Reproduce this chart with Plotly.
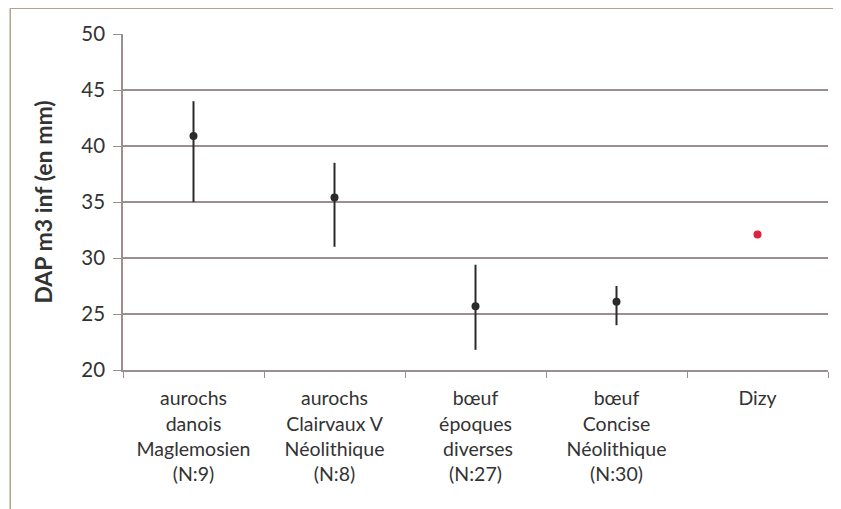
import plotly.graph_objects as go

categories = ["aurochs<br>danois<br>Maglemosien<br>(N:9)",
              "aurochs<br>Clairvaux V<br>Néolithique<br>(N:8)",
              "bœuf<br>époques<br> diverses<br>(N:27)",
              "bœuf<br>Concise<br>Néolithique<br>(N:30)",
              "Dizy"]
means = [40.9, 35.4, 25.7, 26.1, 32.1]
maxs = [44.0, 38.5, 29.4, 27.5, None]
mins = [35.0, 31.0, 21.8, 24.0, None]

grid_col = "#9c8e8e"
txt_col = "#333333"

fig = go.Figure()
fig.add_trace(go.Scatter(
    x=categories[:4], y=means[:4], mode="markers",
    marker=dict(color="#2b2b2b", size=8),
    error_y=dict(type="data", symmetric=False,
                 array=[mx - m for mx, m in zip(maxs[:4], means[:4])],
                 arrayminus=[m - mn for mn, m in zip(mins[:4], means[:4])],
                 color="#2b2b2b", thickness=2, width=0),
    showlegend=False))
fig.add_trace(go.Scatter(
    x=categories[4:], y=means[4:], mode="markers",
    marker=dict(color="#e0203c", size=8), showlegend=False))

fig.update_layout(
    width=841, height=509,
    margin=dict(l=115, r=21, t=26, b=147, autoexpand=False),
    paper_bgcolor="white", plot_bgcolor="white",
    font=dict(family="Lato, Carlito, sans-serif", size=19, color=txt_col),
    xaxis=dict(type="category", categoryorder="array", categoryarray=categories,
               tickson="boundaries", ticks="outside", ticklen=6, tickcolor=grid_col,
               showgrid=False, showline=True, linecolor=grid_col, linewidth=1.5,
               range=[-0.5, 4.5], ticklabelstandoff=10,
               tickfont=dict(size=19.5, color=txt_col)),
    yaxis=dict(range=[20, 50], dtick=5, ticks="outside", ticklen=8, tickcolor=grid_col,
               showgrid=True, gridcolor=grid_col, gridwidth=1.5,
               showline=True, linecolor=grid_col, linewidth=1.5,
               zeroline=False, ticklabelstandoff=4,
               tickfont=dict(size=20.5, color=txt_col),
               title=dict(text="<b>DAP m3 inf (en mm)</b>", font=dict(size=23, color=txt_col),
                          standoff=22)),
)

# outer chart frame (left and top edges)
fig.add_shape(type="line", xref="paper", yref="paper",
              x0=-0.160, x1=-0.160, y0=-0.5, y1=1.077,
              line=dict(color="#b2a48e", width=1.5))
fig.add_shape(type="line", xref="paper", yref="paper",
              x0=-0.160, x1=1.05, y0=1.077, y1=1.077,
              line=dict(color="#b2a48e", width=1.5))

fig.write_html("out.html")
